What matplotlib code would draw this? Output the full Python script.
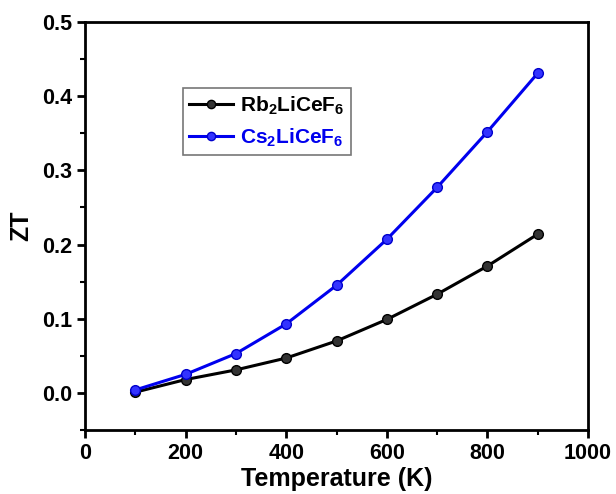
import matplotlib
matplotlib.use('Agg')
from matplotlib import pyplot as plt
from matplotlib.ticker import MultipleLocator

plt.rcParams['font.family'] = ['Liberation Sans', 'DejaVu Sans']
plt.rcParams['font.weight'] = 'bold'
plt.rcParams['mathtext.fontset'] = 'custom'
plt.rcParams['mathtext.rm'] = 'Liberation Sans:bold'
plt.rcParams['mathtext.bf'] = 'Liberation Sans:bold'

temps = [100, 200, 300, 400, 500, 600, 700, 800, 900]
zt_rb = [0.001, 0.018, 0.031, 0.047, 0.070, 0.099, 0.133, 0.171, 0.214]
zt_cs = [0.004, 0.025, 0.053, 0.093, 0.145, 0.207, 0.277, 0.352, 0.431]
labels = [r'Rb$_\mathregular{2}$LiCeF$_\mathregular{6}$',
          r'Cs$_\mathregular{2}$LiCeF$_\mathregular{6}$']

fig = plt.figure(figsize=(6.16, 4.94), dpi=100)
ax = fig.add_axes([85/616, 1-430/494, 503/616, 408/494])

ax.plot(temps, zt_rb, c='black', lw=2.2, marker='o', ms=7,
        mfc='#333333', mec='black', label=labels[0])
ax.plot(temps, zt_cs, c='#0000ee', lw=2.2, marker='o', ms=7,
        mfc='#3333ff', mec='#0000cc', label=labels[1])

ax.set_xlim(0, 1000)
ax.set_ylim(-0.05, 0.5)
ax.xaxis.set_major_locator(MultipleLocator(200))
ax.xaxis.set_minor_locator(MultipleLocator(100))
ax.yaxis.set_major_locator(MultipleLocator(0.1))
ax.yaxis.set_minor_locator(MultipleLocator(0.05))
ax.yaxis.set_major_formatter(plt.FuncFormatter(lambda v, p: f'{v:.1f}'))

for s in ax.spines.values():
    s.set_linewidth(2)
ax.tick_params(which='major', direction='out', length=6, width=2, labelsize=15.5)
ax.tick_params(which='minor', direction='out', length=3.5, width=1.5)

ax.set_xlabel('Temperature (K)', fontsize=18, fontweight='bold', labelpad=2)
ax.set_ylabel('ZT', fontsize=18, fontweight='bold', labelpad=6)

# legend box sits a little right of the left spine, near the top
leg = ax.legend(loc='upper left', bbox_to_anchor=(0.195, 0.838), fontsize=15,
                frameon=True, fancybox=False, edgecolor='#555555',
                handlelength=2.1, handletextpad=0.35, borderpad=0.3,
                labelspacing=0.45, borderaxespad=0, markerscale=0.85)
leg.get_frame().set_linewidth(1.2)
for txt, line in zip(leg.get_texts(), leg.get_lines()):
    txt.set_color(line.get_color())

fig.savefig('out.png', dpi=100)
